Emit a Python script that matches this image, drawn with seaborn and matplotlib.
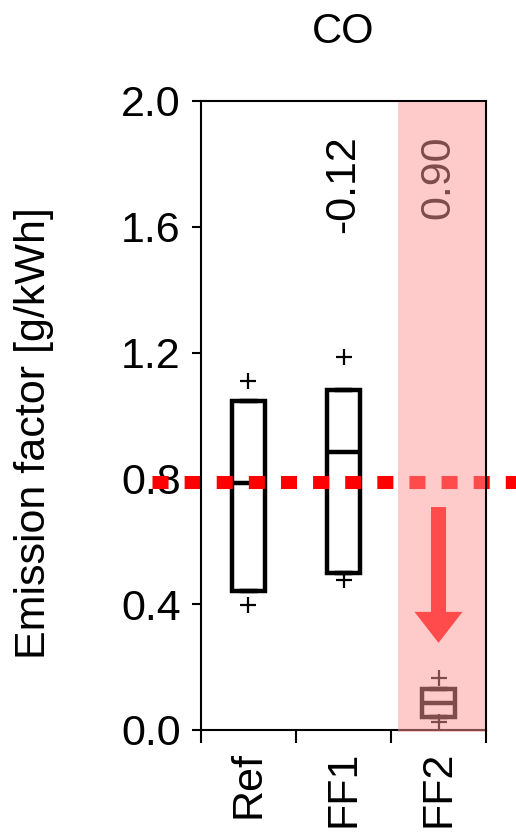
import pandas as pd
import matplotlib.pyplot as plt
import seaborn as sns

# categories and values
groups = ["Ref", "FF1", "FF2"]
# five numbers per group: low cross, box bottom, median, box top, high cross
ref_vals = [0.397, 0.442, 0.785, 1.045, 1.111]
ff1_vals = [0.478, 0.499, 0.885, 1.081, 1.186]
ff2_vals = [0.025, 0.041, 0.086, 0.130, 0.165]
changes = ["", "-0.12", "0.90"]
limit_value = 0.79
arrow_top = 0.709
arrow_tip = 0.277
y_ticks = [0.0, 0.4, 0.8, 1.2, 1.6, 2.0]

df = pd.DataFrame({
    "group": [g for g, v in zip(groups, [ref_vals, ff1_vals, ff2_vals]) for _ in v],
    "value": ref_vals + ff1_vals + ff2_vals,
})

sns.set_style("ticks")
plt.rcParams["font.family"] = ["Liberation Sans", "DejaVu Sans"]
plt.rcParams["font.size"] = 31
plt.rcParams["text.color"] = "black"
plt.rcParams["axes.labelcolor"] = "black"

fig = plt.figure(figsize=(5.16, 8.36), dpi=100)
ax = fig.add_axes([0.3895, 0.1268, 0.5524, 0.7524])

# whiskers at the box edges, outer points drawn as crosses
sns.boxplot(data=df, x="group", y="value", order=groups, color="white", saturation=1,
            linecolor="black", linewidth=3.2, width=0.35, whis=(25, 75), fliersize=11,
            flierprops=dict(marker="+", markeredgewidth=1.6, markeredgecolor="black"),
            ax=ax)

# red dotted limit line, runs past the axes
ax.axhline(limit_value, xmin=-0.172, xmax=1.2, color="red", lw=9.4,
           ls=(0, (1.23, 1.23)), clip_on=False, zorder=2.3)

# arrow in FF2 column
ax.arrow(2, arrow_top, 0, arrow_tip - arrow_top, width=0.158, head_width=0.505,
         head_length=0.0986, length_includes_head=True, color="red", lw=0, zorder=4)

for i, t in enumerate(changes):
    if t:
        ax.text(i, 1.89, t, rotation=90, ha="center", va="top", fontsize=31,
                color="black", zorder=4)

# pink overlay on the FF2 column
ax.axvspan(1.574, 2.49, ymin=-0.003, ymax=0.998, color=(1.0, 150 / 255, 150 / 255),
           alpha=0.5, lw=0, zorder=5, clip_on=False)

ax.set_xlim(-0.5, 2.5)
ax.set_ylim(0, 2.0)
ax.set_yticks(y_ticks)
ax.set_yticklabels([f"{t:.1f}" for t in y_ticks])
ax.set_xticks(range(len(groups)))
ax.set_xticklabels(groups, rotation=90)
ax.set_xticks([-0.5, 0.5, 1.5, 2.5], minor=True)
ax.tick_params(axis="x", which="major", length=0, pad=15, colors="black")
ax.tick_params(axis="x", which="minor", length=9.5, width=1.5, color="black")
ax.tick_params(axis="y", length=6.5, width=1.5, pad=8, colors="black")
for s in ax.spines.values():
    s.set_visible(True)
    s.set_linewidth(1.5)
    s.set_color("black")

ax.set_xlabel("")
ax.set_ylabel("Emission factor [g/kWh]", fontsize=31, color="black")
ax.yaxis.set_label_coords(-0.515, 0.472)
ax.set_title("CO", pad=42, fontsize=30, color="black")

fig.savefig("out.png", dpi=100)
